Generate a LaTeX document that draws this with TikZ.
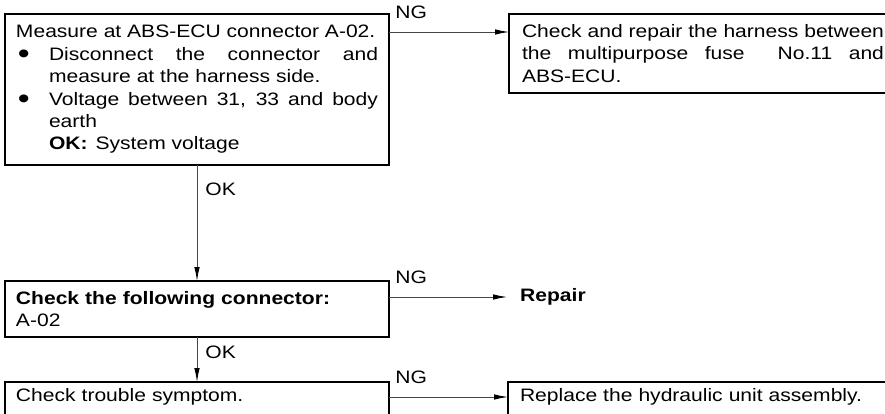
\documentclass[tikz,border=0pt]{standalone}
\usepackage{fontspec}
\setmainfont{Liberation Sans}[FakeStretch=1.17]
\usetikzlibrary{arrows.meta, positioning, calc}
\definecolor{linegray}{RGB}{70,70,70}
\newcommand{\diagfont}{\fontsize{18pt}{22.4pt}\selectfont}
\newcommand{\bigdot}{{\fontsize{29pt}{0pt}\selectfont\raisebox{-3.5pt}{\textbullet}}}
\newcommand{\bitem}{\par\noindent\hangindent=33pt\hangafter=1\makebox[33pt][l]{\hspace{2pt}\bigdot}}
\setlength{\parindent}{0pt}
\tolerance=9999
\hyphenpenalty=10000

\begin{document}
\begin{tikzpicture}[
    x=1pt, y=-1pt,
    font=\diagfont,
    box/.style={draw=black, line width=1.3pt, anchor=north west, outer sep=0pt,
                inner xsep=11pt, inner ysep=6pt, text width=362pt, align=justify},
    arr/.style={-{Latex[length=14pt, width=5.5pt, black]}, line width=0.9pt, draw=linegray},
    ng/.style={anchor=south west, inner sep=0pt, xshift=6pt, yshift=12.5pt},
    ok/.style={anchor=west, inner sep=0pt, xshift=8pt}
]
\useasboundingbox (0,0) rectangle (885,414);
\clip (0,0) rectangle (885,414);

% Colonne gauche : etapes de controle
\node[box, minimum height=151pt] (meas) at (5,14) {Measure at ABS-ECU connector A-02.
  \bitem Disconnect the connector and\linebreak measure at the harness side.
  \bitem Voltage between 31, 33 and body\linebreak earth\newline
  \textbf{OK:}\hspace{8pt}System voltage\par};
\node[box, minimum height=56pt, align=left] (conn) at (5,281)
  {\textbf{Check the following connector:}\\A-02};
\node[box, text depth=30pt, align=left] (symp) at (5,382) {Check trouble symptom.};

% Colonne droite : actions NG
\node[box, minimum height=79pt, inner xsep=13pt] (harn) at (509,14)
  {Check and repair the harness between\linebreak the multipurpose fuse\ \ No.11 and\linebreak ABS-ECU.};
\node[anchor=west, inner xsep=13pt, inner ysep=0pt, font=\diagfont\bfseries] (repair) at (507,297) {Repair};
\node[box, text depth=30pt, align=left, inner xsep=12pt] (repl) at (508,382)
  {Replace the hydraulic unit assembly.};

% Fleches NG
\foreach \src/\dst/\dy in {meas/harn/18pt, symp/repl/15pt}
    \draw[arr] ([yshift=-\dy]\src.north east) -- ([yshift=-\dy]\dst.north west)
        node[pos=0, ng] {NG};
\draw[arr] ([yshift=-16pt]conn.north east) -- (repair.west) node[pos=0, ng] {NG};

% Fleches OK
\foreach \src/\dst/\p in {meas/conn/0.21, conn/symp/0.35}
    \draw[arr] (\src.south) -- (\dst.north) node[pos=\p, ok] {OK};

\end{tikzpicture}
\end{document}
